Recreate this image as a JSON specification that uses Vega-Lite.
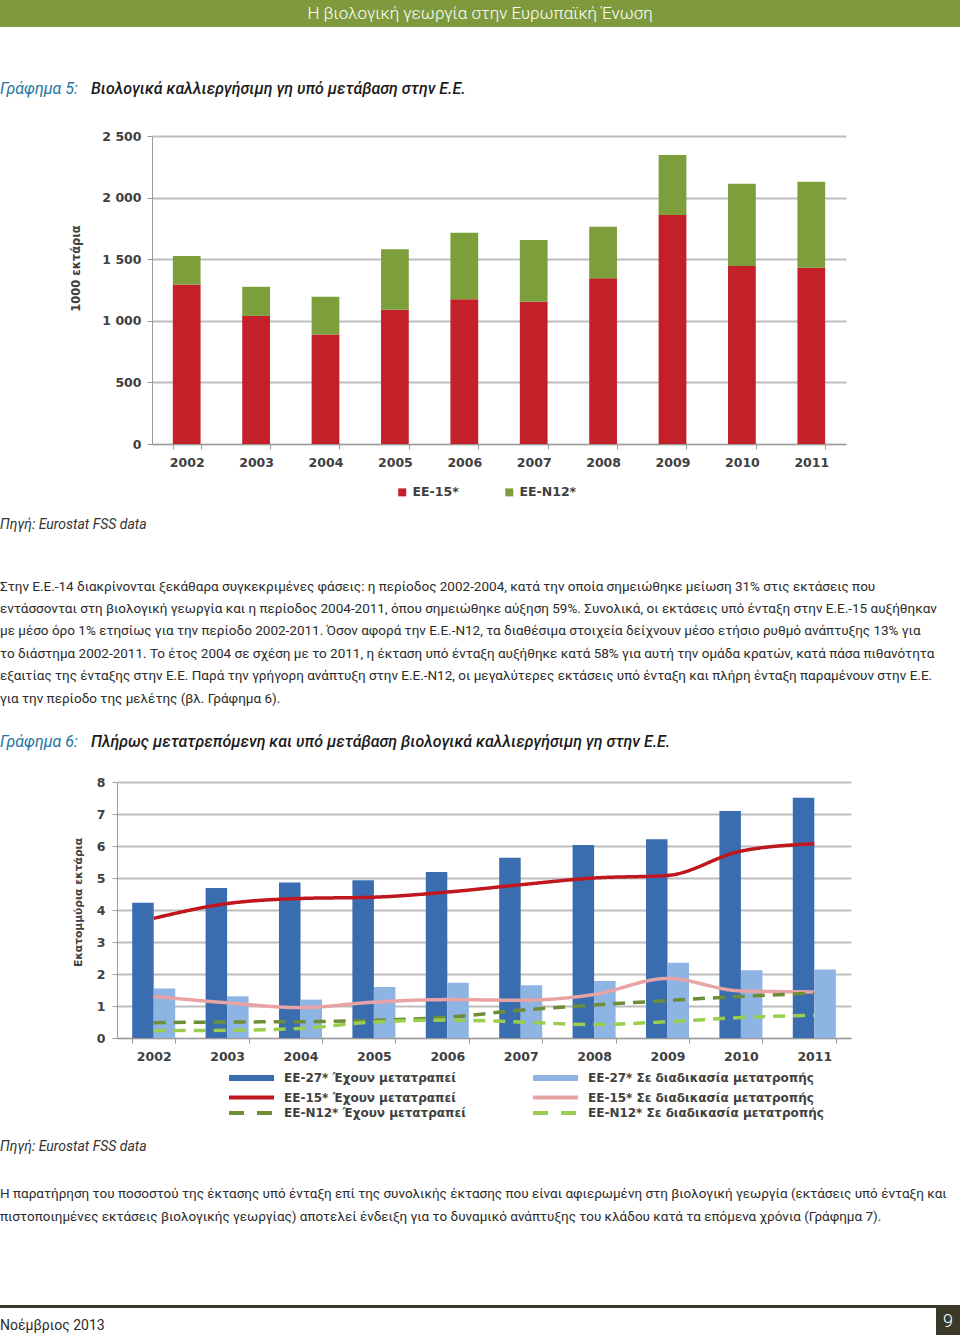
{
  "$schema": "https://vega.github.io/schema/vega-lite/v6.json",
  "padding": 0,
  "autosize": {"type": "pad"},
  "background": "white",
  "spacing": 0,
  "bounds": "full",
  "resolve": {
    "scale": {"color": "independent", "strokeDash": "independent", "x": "independent", "y": "independent"},
    "legend": {"color": "independent", "strokeDash": "independent"}
  },
  "datasets": {
    "chart1": [
      {"year": "2002", "group": "ΕΕ-15*", "value": 1295},
      {"year": "2003", "group": "ΕΕ-15*", "value": 1040},
      {"year": "2004", "group": "ΕΕ-15*", "value": 888},
      {"year": "2005", "group": "ΕΕ-15*", "value": 1090},
      {"year": "2006", "group": "ΕΕ-15*", "value": 1175},
      {"year": "2007", "group": "ΕΕ-15*", "value": 1155},
      {"year": "2008", "group": "ΕΕ-15*", "value": 1345},
      {"year": "2009", "group": "ΕΕ-15*", "value": 1859},
      {"year": "2010", "group": "ΕΕ-15*", "value": 1445},
      {"year": "2011", "group": "ΕΕ-15*", "value": 1430},
      {"year": "2002", "group": "ΕΕ-Ν12*", "value": 231},
      {"year": "2003", "group": "ΕΕ-Ν12*", "value": 236},
      {"year": "2004", "group": "ΕΕ-Ν12*", "value": 307},
      {"year": "2005", "group": "ΕΕ-Ν12*", "value": 491},
      {"year": "2006", "group": "ΕΕ-Ν12*", "value": 540},
      {"year": "2007", "group": "ΕΕ-Ν12*", "value": 501},
      {"year": "2008", "group": "ΕΕ-Ν12*", "value": 418},
      {"year": "2009", "group": "ΕΕ-Ν12*", "value": 487},
      {"year": "2010", "group": "ΕΕ-Ν12*", "value": 668},
      {"year": "2011", "group": "ΕΕ-Ν12*", "value": 699}
    ],
    "c2bars": [
      {"year": "2002", "series": "ΕΕ-27* Έχουν μετατραπεί", "value": 4.23},
      {"year": "2003", "series": "ΕΕ-27* Έχουν μετατραπεί", "value": 4.69},
      {"year": "2004", "series": "ΕΕ-27* Έχουν μετατραπεί", "value": 4.86},
      {"year": "2005", "series": "ΕΕ-27* Έχουν μετατραπεί", "value": 4.93},
      {"year": "2006", "series": "ΕΕ-27* Έχουν μετατραπεί", "value": 5.19},
      {"year": "2007", "series": "ΕΕ-27* Έχουν μετατραπεί", "value": 5.63},
      {"year": "2008", "series": "ΕΕ-27* Έχουν μετατραπεί", "value": 6.03},
      {"year": "2009", "series": "ΕΕ-27* Έχουν μετατραπεί", "value": 6.21},
      {"year": "2010", "series": "ΕΕ-27* Έχουν μετατραπεί", "value": 7.09},
      {"year": "2011", "series": "ΕΕ-27* Έχουν μετατραπεί", "value": 7.51},
      {"year": "2002", "series": "ΕΕ-27* Σε διαδικασία μετατροπής", "value": 1.55},
      {"year": "2003", "series": "ΕΕ-27* Σε διαδικασία μετατροπής", "value": 1.30},
      {"year": "2004", "series": "ΕΕ-27* Σε διαδικασία μετατροπής", "value": 1.20},
      {"year": "2005", "series": "ΕΕ-27* Σε διαδικασία μετατροπής", "value": 1.59},
      {"year": "2006", "series": "ΕΕ-27* Σε διαδικασία μετατροπής", "value": 1.73},
      {"year": "2007", "series": "ΕΕ-27* Σε διαδικασία μετατροπής", "value": 1.65},
      {"year": "2008", "series": "ΕΕ-27* Σε διαδικασία μετατροπής", "value": 1.78},
      {"year": "2009", "series": "ΕΕ-27* Σε διαδικασία μετατροπής", "value": 2.35},
      {"year": "2010", "series": "ΕΕ-27* Σε διαδικασία μετατροπής", "value": 2.12},
      {"year": "2011", "series": "ΕΕ-27* Σε διαδικασία μετατροπής", "value": 2.14}
    ],
    "c2lines": [
      {"year": "2002", "series": "ΕΕ-15* Έχουν μετατραπεί", "value": 3.74},
      {"year": "2003", "series": "ΕΕ-15* Έχουν μετατραπεί", "value": 4.20},
      {"year": "2004", "series": "ΕΕ-15* Έχουν μετατραπεί", "value": 4.36},
      {"year": "2005", "series": "ΕΕ-15* Έχουν μετατραπεί", "value": 4.40},
      {"year": "2006", "series": "ΕΕ-15* Έχουν μετατραπεί", "value": 4.56},
      {"year": "2007", "series": "ΕΕ-15* Έχουν μετατραπεί", "value": 4.79},
      {"year": "2008", "series": "ΕΕ-15* Έχουν μετατραπεί", "value": 5.00},
      {"year": "2009", "series": "ΕΕ-15* Έχουν μετατραπεί", "value": 5.08},
      {"year": "2010", "series": "ΕΕ-15* Έχουν μετατραπεί", "value": 5.84},
      {"year": "2011", "series": "ΕΕ-15* Έχουν μετατραπεί", "value": 6.07},
      {"year": "2002", "series": "ΕΕ-15* Σε διαδικασία μετατροπής", "value": 1.30},
      {"year": "2003", "series": "ΕΕ-15* Σε διαδικασία μετατροπής", "value": 1.10},
      {"year": "2004", "series": "ΕΕ-15* Σε διαδικασία μετατροπής", "value": 0.95},
      {"year": "2005", "series": "ΕΕ-15* Σε διαδικασία μετατροπής", "value": 1.12},
      {"year": "2006", "series": "ΕΕ-15* Σε διαδικασία μετατροπής", "value": 1.20},
      {"year": "2007", "series": "ΕΕ-15* Σε διαδικασία μετατροπής", "value": 1.18},
      {"year": "2008", "series": "ΕΕ-15* Σε διαδικασία μετατροπής", "value": 1.36},
      {"year": "2009", "series": "ΕΕ-15* Σε διαδικασία μετατροπής", "value": 1.86},
      {"year": "2010", "series": "ΕΕ-15* Σε διαδικασία μετατροπής", "value": 1.47},
      {"year": "2011", "series": "ΕΕ-15* Σε διαδικασία μετατροπής", "value": 1.44},
      {"year": "2002", "series": "ΕΕ-Ν12* Έχουν μετατραπεί", "value": 0.48},
      {"year": "2003", "series": "ΕΕ-Ν12* Έχουν μετατραπεί", "value": 0.50},
      {"year": "2004", "series": "ΕΕ-Ν12* Έχουν μετατραπεί", "value": 0.51},
      {"year": "2005", "series": "ΕΕ-Ν12* Έχουν μετατραπεί", "value": 0.55},
      {"year": "2006", "series": "ΕΕ-Ν12* Έχουν μετατραπεί", "value": 0.65},
      {"year": "2007", "series": "ΕΕ-Ν12* Έχουν μετατραπεί", "value": 0.87},
      {"year": "2008", "series": "ΕΕ-Ν12* Έχουν μετατραπεί", "value": 1.03},
      {"year": "2009", "series": "ΕΕ-Ν12* Έχουν μετατραπεί", "value": 1.17},
      {"year": "2010", "series": "ΕΕ-Ν12* Έχουν μετατραπεί", "value": 1.30},
      {"year": "2011", "series": "ΕΕ-Ν12* Έχουν μετατραπεί", "value": 1.40},
      {"year": "2002", "series": "ΕΕ-Ν12* Σε διαδικασία μετατροπής", "value": 0.23},
      {"year": "2003", "series": "ΕΕ-Ν12* Σε διαδικασία μετατροπής", "value": 0.24},
      {"year": "2004", "series": "ΕΕ-Ν12* Σε διαδικασία μετατροπής", "value": 0.30},
      {"year": "2005", "series": "ΕΕ-Ν12* Σε διαδικασία μετατροπής", "value": 0.50},
      {"year": "2006", "series": "ΕΕ-Ν12* Σε διαδικασία μετατροπής", "value": 0.56},
      {"year": "2007", "series": "ΕΕ-Ν12* Σε διαδικασία μετατροπής", "value": 0.50},
      {"year": "2008", "series": "ΕΕ-Ν12* Σε διαδικασία μετατροπής", "value": 0.42},
      {"year": "2009", "series": "ΕΕ-Ν12* Σε διαδικασία μετατροπής", "value": 0.51},
      {"year": "2010", "series": "ΕΕ-Ν12* Σε διαδικασία μετατροπής", "value": 0.64},
      {"year": "2011", "series": "ΕΕ-Ν12* Σε διαδικασία μετατροπής", "value": 0.71}
    ]
  },
  "vconcat": [
    {
      "width": 960, "height": 27,
      "view": {"fill": "#7f9a3d", "stroke": null},
      "data": {"values": [{"label": "Η βιολογική γεωργία στην Ευρωπαϊκή Ένωση"}]},
      "mark": {"type": "text", "color": "#ffffff", "font": "Roboto", "fontWeight": 300, "fontSize": 17, "baseline": "middle", "align": "center"},
      "encoding": {"text": {"field": "label", "type": "nominal"}}
    },
    {
      "hconcat": [
        {
          "width": 91, "height": 103,
          "data": {"values": []}, "mark": "text", "encoding": {},
          "title": {"text": "Γράφημα 5:", "offset": -70, "font": "Roboto", "fontStyle": "italic", "fontWeight": 400, "fontSize": 16, "color": "#1e73a3"}
        },
        {
          "width": 869, "height": 103,
          "data": {"values": []}, "mark": "text", "encoding": {},
          "title": {"text": "Βιολογικά καλλιεργήσιμη γη υπό μετάβαση στην Ε.Ε.", "offset": -70, "font": "Roboto", "fontStyle": "italic", "fontWeight": 500, "fontSize": 16, "color": "#1a1a1a"}
        }
      ],
      "spacing": 0, "bounds": "flush"
    },
    {
      "hconcat": [
        {"width": 152, "height": 369, "data": {"values": []}, "mark": "text", "encoding": {}},
        {
          "width": 694, "height": 308,
          "data": {"name": "chart1"},
          "mark": {"type": "bar"},
          "encoding": {
            "x": {"field": "year", "type": "ordinal", "scale": {"paddingInner": 0.6, "paddingOuter": 0.3},
                  "axis": {"title": null, "labelAngle": 0, "tickBand": "extent", "tickSize": 5, "labelPadding": 7, "grid": false, "labelFontSize": 12.5}},
            "y": {"field": "value", "type": "quantitative", "stack": "zero", "scale": {"domain": [0, 2500]},
                  "axis": {"values": [0, 500, 1000, 1500, 2000, 2500], "title": "1000 εκτάρια", "titleFontSize": 11.5, "titlePadding": 20, "titleY": 132,
                           "labelExpr": "replace(format(datum.value, ','), ',', ' ')", "grid": true, "tickSize": 5, "labelPadding": 6, "labelFontSize": 12.5}},
            "color": {"field": "group", "type": "nominal",
                      "scale": {"domain": ["ΕΕ-15*", "ΕΕ-Ν12*"], "range": ["#c3202a", "#7c9f3c"]},
                      "legend": {"orient": "none", "legendX": 396, "legendY": 350, "direction": "horizontal", "title": null, "padding": 0,
                                 "symbolType": "square", "symbolSize": 64, "symbolStrokeWidth": 0, "labelOffset": 4, "columnPadding": 44,
                                 "labelFont": "DejaVu Sans", "labelFontWeight": "bold", "labelFontSize": 12.5, "labelColor": "#404040", "labelLimit": 0}},
            "order": {"field": "group", "sort": "ascending"}
          }
        }
      ],
      "spacing": 0, "bounds": "flush"
    },
    {
      "width": 960, "height": 35,
      "data": {"values": []}, "mark": "text", "encoding": {},
      "title": {"text": "Πηγή: Eurostat FSS data", "offset": -27, "font": "Roboto", "fontStyle": "italic", "fontWeight": 400, "fontSize": 14, "color": "#333333"}
    },
    {
      "width": 960, "height": 190,
      "data": {"values": []}, "mark": "text", "encoding": {},
      "title": {
        "text": [
          "Στην Ε.Ε.-14 διακρίνονται ξεκάθαρα συγκεκριμένες φάσεις: η περίοδος 2002-2004, κατά την οποία σημειώθηκε μείωση 31% στις εκτάσεις που",
          "εντάσσονται στη βιολογική γεωργία και η περίοδος 2004-2011, όπου σημειώθηκε αύξηση 59%. Συνολικά, οι εκτάσεις υπό ένταξη στην Ε.Ε.-15 αυξήθηκαν",
          "με μέσο όρο 1% ετησίως για την περίοδο 2002-2011. Όσον αφορά την Ε.Ε.-Ν12, τα διαθέσιμα στοιχεία δείχνουν μέσο ετήσιο ρυθμό ανάπτυξης 13% για",
          "το διάστημα 2002-2011. Το έτος 2004 σε σχέση με το 2011, η έκταση υπό ένταξη αυξήθηκε κατά 58% για αυτή την ομάδα κρατών, κατά πάσα πιθανότητα",
          "εξαιτίας της ένταξης στην Ε.Ε. Παρά την γρήγορη ανάπτυξη στην Ε.Ε.-Ν12, οι μεγαλύτερες εκτάσεις υπό ένταξη και πλήρη ένταξη παραμένουν στην Ε.Ε.",
          "για την περίοδο της μελέτης (βλ. Γράφημα 6)."
        ],
        "offset": -165, "font": "Roboto", "fontWeight": 400, "fontSize": 13.5, "lineHeight": 22.4, "color": "#2b2b2b"
      }
    },
    {
      "hconcat": [
        {
          "width": 91, "height": 46,
          "data": {"values": []}, "mark": "text", "encoding": {},
          "title": {"text": "Γράφημα 6:", "offset": -20, "font": "Roboto", "fontStyle": "italic", "fontWeight": 400, "fontSize": 16, "color": "#1e73a3"}
        },
        {
          "width": 869, "height": 46,
          "data": {"values": []}, "mark": "text", "encoding": {},
          "title": {"text": "Πλήρως μετατρεπόμενη και υπό μετάβαση βιολογικά καλλιεργήσιμη γη στην Ε.Ε.", "offset": -20, "font": "Roboto", "fontStyle": "italic", "fontWeight": 500, "fontSize": 16, "color": "#1a1a1a"}
        }
      ],
      "spacing": 0, "bounds": "flush"
    },
    {
      "hconcat": [
        {"width": 117, "height": 348, "data": {"values": []}, "mark": "text", "encoding": {}},
        {
          "width": 734, "height": 256,
          "encoding": {
            "x": {"field": "year", "type": "ordinal", "scale": {"paddingInner": 0.414, "paddingOuter": 0.207},
                  "axis": {"title": null, "labelAngle": 0, "tickBand": "extent", "tickSize": 5, "labelPadding": 7, "grid": false, "labelFontSize": 12.5}},
            "y": {"field": "value", "type": "quantitative", "scale": {"domain": [0, 8]},
                  "axis": {"values": [0, 1, 2, 3, 4, 5, 6, 7, 8], "title": "Εκατομμύρια εκτάρια", "titleFontSize": 10.7, "titlePadding": 13, "titleY": 120,
                           "grid": true, "tickSize": 5, "labelPadding": 7, "labelFontSize": 12.5}},
            "color": {"field": "series", "type": "nominal",
                      "scale": {"domain": ["ΕΕ-27* Έχουν μετατραπεί", "ΕΕ-15* Έχουν μετατραπεί", "ΕΕ-Ν12* Έχουν μετατραπεί", "ΕΕ-27* Σε διαδικασία μετατροπής", "ΕΕ-15* Σε διαδικασία μετατροπής", "ΕΕ-Ν12* Σε διαδικασία μετατροπής"],
                                "range": ["#3a6cb0", "#c0161e", "#6d8e36", "#8db4e2", "#e8a3a5", "#9bcd4f"]},
                      "legend": {"orient": "none", "legendX": 232, "legendY": 290, "columns": 2, "gridAlign": "each", "title": null, "padding": 0,
                                 "symbolType": "M-1,0H4", "symbolSize": 324, "symbolStrokeWidth": 4, "labelOffset": 40, "rowPadding": -0.5, "columnPadding": 55,
                                 "labelFont": "DejaVu Sans", "labelFontWeight": "bold", "labelFontSize": 12, "labelColor": "#404040", "labelLimit": 0,
                                 "encode": {"symbols": {"update": {
                                   "fill": {"value": "transparent"},
                                   "stroke": {"signal": "['#3a6cb0','#8db4e2','#c0161e','#e8a3a5','#6d8e36','#9bcd4f'][max(0, indexof(['ΕΕ-27* Έχουν μετατραπεί','ΕΕ-27* Σε διαδικασία μετατροπής','ΕΕ-15* Έχουν μετατραπεί','ΕΕ-15* Σε διαδικασία μετατροπής','ΕΕ-Ν12* Έχουν μετατραπεί','ΕΕ-Ν12* Σε διαδικασία μετατροπής'], datum.value))]"},
                                   "strokeWidth": {"signal": "indexof(['ΕΕ-27* Έχουν μετατραπεί','ΕΕ-27* Σε διαδικασία μετατροπής'], datum.value) >= 0 ? 6 : 4"},
                                   "strokeDash": {"signal": "indexof(['ΕΕ-Ν12* Έχουν μετατραπεί','ΕΕ-Ν12* Σε διαδικασία μετατροπής'], datum.value) >= 0 ? [15,13] : [1,0]"}
                                 }}}}}
          },
          "layer": [
            {
              "data": {"name": "c2bars"},
              "mark": {"type": "bar"},
              "encoding": {
                "xOffset": {"field": "series", "type": "nominal", "scale": {"domain": ["ΕΕ-27* Έχουν μετατραπεί", "ΕΕ-27* Σε διαδικασία μετατροπής"], "paddingInner": 0, "paddingOuter": 0}}
              }
            },
            {
              "data": {"name": "c2lines"},
              "mark": {"type": "line", "interpolate": "monotone", "strokeWidth": 3.5},
              "encoding": {
                "strokeDash": {"field": "series", "type": "nominal",
                               "scale": {"domain": ["ΕΕ-15* Έχουν μετατραπεί", "ΕΕ-15* Σε διαδικασία μετατροπής", "ΕΕ-Ν12* Έχουν μετατραπεί", "ΕΕ-Ν12* Σε διαδικασία μετατροπής"],
                                         "range": [[1, 0], [1, 0], [12, 8], [12, 8]]},
                               "legend": null}
              }
            }
          ]
        }
      ],
      "spacing": 0, "bounds": "flush"
    },
    {
      "width": 960, "height": 30,
      "data": {"values": []}, "mark": "text", "encoding": {},
      "title": {"text": "Πηγή: Eurostat FSS data", "offset": -24, "font": "Roboto", "fontStyle": "italic", "fontWeight": 400, "fontSize": 14, "color": "#333333"}
    },
    {
      "width": 960, "height": 145,
      "data": {"values": []}, "mark": "text", "encoding": {},
      "title": {
        "text": [
          "Η παρατήρηση του ποσοστού της έκτασης υπό ένταξη επί της συνολικής έκτασης που είναι αφιερωμένη στη βιολογική γεωργία (εκτάσεις υπό ένταξη και",
          "πιστοποιημένες εκτάσεις βιολογικής γεωργίας) αποτελεί ένδειξη για το δυναμικό ανάπτυξης του κλάδου κατά τα επόμενα χρόνια (Γράφημα 7)."
        ],
        "offset": -63, "font": "Roboto", "fontWeight": 400, "fontSize": 13.5, "lineHeight": 22.5, "color": "#2b2b2b"
      }
    },
    {
      "width": 960, "height": 3,
      "view": {"fill": "#3a3828", "stroke": null},
      "data": {"values": []}, "mark": "text", "encoding": {}
    },
    {
      "hconcat": [
        {
          "width": 936, "height": 27,
          "data": {"values": []}, "mark": "text", "encoding": {},
          "title": {"text": "Νοέμβριος 2013", "offset": -25, "font": "Roboto", "fontWeight": 400, "fontSize": 14, "color": "#2b2b2b"}
        },
        {
          "width": 24, "height": 27,
          "view": {"fill": "#3a3828", "stroke": null},
          "data": {"values": [{"label": "9"}]},
          "mark": {"type": "text", "color": "#ffffff", "font": "Roboto", "fontWeight": 300, "fontSize": 18, "baseline": "middle", "align": "center"},
          "encoding": {"text": {"field": "label", "type": "nominal"}}
        }
      ],
      "spacing": 0, "bounds": "flush"
    }
  ],
  "config": {
    "view": {"stroke": null},
    "font": "Roboto",
    "title": {"anchor": "start", "frame": "group"},
    "axis": {
      "labelFont": "DejaVu Sans", "labelFontWeight": "bold", "labelColor": "#404040",
      "titleFont": "DejaVu Sans", "titleFontWeight": "bold", "titleColor": "#404040",
      "domainColor": "#9a9a9a", "tickColor": "#9a9a9a", "gridColor": "#bdbdbd", "gridWidth": 2
    }
  }
}
